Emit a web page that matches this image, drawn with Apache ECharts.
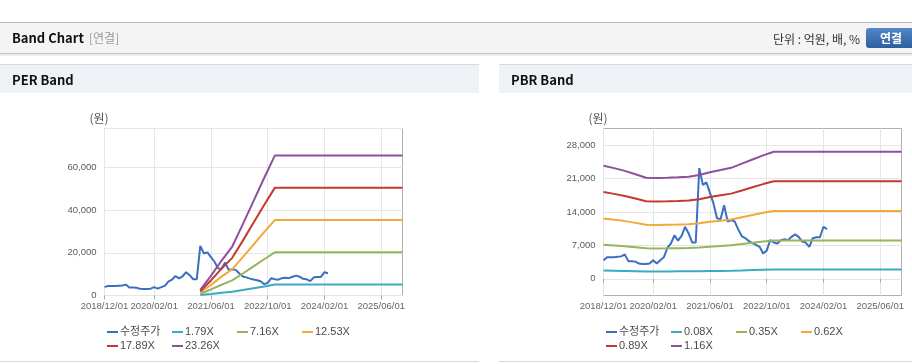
<!DOCTYPE html>
<html><head><meta charset="utf-8">
<script src="https://cdn.jsdelivr.net/npm/echarts@6/dist/echarts.min.js"></script>
<style>html,body{margin:0;padding:0;background:#fff}#c{width:912px;height:364px}</style>
</head><body><div id="c"></div><script>
// ---- data ----
const categories = [
'2018/12/01',
'2019/01/01','2019/02/01','2019/03/01','2019/04/01','2019/05/01','2019/06/01','2019/07/01','2019/08/01','2019/09/01','2019/10/01','2019/11/01','2019/12/01',
'2020/01/01','2020/02/01','2020/03/01','2020/04/01','2020/05/01','2020/06/01','2020/07/01','2020/08/01','2020/09/01','2020/10/01','2020/11/01','2020/12/01',
'2021/01/01','2021/02/01','2021/03/01','2021/04/01','2021/05/01','2021/06/01','2021/07/01','2021/08/01','2021/09/01','2021/10/01','2021/11/01','2021/12/01',
'2022/01/01','2022/02/01','2022/03/01','2022/04/01','2022/05/01','2022/06/01','2022/07/01','2022/08/01','2022/09/01','2022/10/01','2022/11/01','2022/12/01',
'2023/01/01','2023/02/01','2023/03/01','2023/04/01','2023/05/01','2023/06/01','2023/07/01','2023/08/01','2023/09/01','2023/10/01','2023/11/01','2023/12/01',
'2024/01/01','2024/02/01','2024/03/01','2024/04/01','2024/05/01','2024/06/01','2024/07/01','2024/08/01','2024/09/01','2024/10/01','2024/11/01','2024/12/01',
'2025/01/01','2025/02/01','2025/03/01','2025/04/01','2025/05/01','2025/06/01','2025/07/01','2025/08/01','2025/09/01','2025/10/01','2025/11/01','2025/12/01'
];
const xTickLabels = ['2018/12/01','2020/02/01','2021/06/01','2022/10/01','2024/02/01','2025/06/01'];

// 수정주가 (monthly, from 2018/12)
const price = [3900,4500,4500,4500,4600,4700,5100,3700,3700,3600,3200,3100,3100,3200,3900,3200,3900,4500,6500,7400,9100,8000,9000,10900,9500,7600,7600,
23200,19700,20200,18000,15800,12700,12500,15400,12000,12300,12000,10300,8900,8500,7900,7500,7100,6700,5300,5900,8100,7600,7400,8100,8300,8100,8800,9300,8800,7800,7600,6700,8500,8700,8700,10900,10400];

// PER band
const perNames = ['1.79X','7.16X','12.53X','17.89X','23.26X'];
const perKeyDates = ['2021/03/01','2021/06/01','2021/09/01','2021/12/01','2022/03/01','2022/06/01','2022/09/01','2022/12/01','2025/12/01'];
const per179  = [200, 710, 1260, 1770, 2580, 3410, 4240, 5200, 5200];
const per716  = [810, 2830, 5050, 7070, 10300, 13640, 16970, 20200, 20200];
const per1253 = [1410, 4940, 8830, 12360, 18000, 23830, 29650, 35300, 35300];
const per1789 = [2020, 7060, 12600, 17640, 25700, 34020, 42340, 50400, 50400];
const per2326 = [2620, 9170, 16380, 22930, 33410, 44210, 55020, 65500, 65500];
const perYTicks = [0, 20000, 40000, 60000];

// PBR band
const pbrNames = ['0.08X','0.35X','0.62X','0.89X','1.16X'];
const pbrKeyDates = ['2018/12/01','2019/03/01','2019/06/01','2019/09/01','2019/12/01','2020/03/01','2020/06/01','2020/09/01','2020/12/01','2021/03/01','2021/06/01','2021/09/01','2021/12/01','2022/03/01','2022/06/01','2022/09/01','2022/12/01','2025/12/01'];
const pbr008 = [1720,1690,1650,1600,1550,1550,1550,1560,1560,1590,1630,1660,1700,1760,1830,1890,1940,1940];
const pbr035 = [7150,7000,6830,6620,6390,6370,6390,6420,6450,6560,6740,6880,7020,7280,7540,7810,8030,8030];
const pbr062 = [12660,12400,12090,11720,11320,11280,11320,11360,11430,11630,11940,12180,12430,12900,13360,13830,14230,14230];
const pbr089 = [18170,17800,17360,16820,16240,16200,16240,16310,16400,16690,17130,17490,17850,18510,19180,19850,20430,20430];
const pbr116 = [23690,23200,22620,21920,21170,21110,21170,21260,21380,21750,22330,22790,23260,24130,25000,25870,26620,26620];
const pbrYTicks = [0, 7000, 14000, 21000, 28000];

const colors = ['#3b6fc1','#3aabc1','#96b55a','#f3a83b','#c2392f','#8c519b'];

// ---- chart ----
const chart = echarts.init(document.getElementById('c'), null, {renderer:'canvas'});
const FONT = '"Liberation Sans", "Noto Sans CJK KR", sans-serif';
const KFONT = '"Noto Sans CJK KR", "Liberation Sans", sans-serif';
const showTick = (i, v) => xTickLabels.indexOf(categories[i]) >= 0;
const pairs = (dates, vals) => dates.map((d, i) => [d, vals[i]]);

function xAxis(gi) {
  return {
    type:'category', gridIndex: gi, data: categories, boundaryGap:false,
    axisLine:{show:false},
    axisTick:{show:true, interval: showTick, length:4, lineStyle:{color:'#aaa'}},
    axisLabel:{interval: showTick, color:'#666', fontSize:9.5, margin:6, fontFamily: FONT},
    splitLine:{show:true, interval: showTick, lineStyle:{color:'#e6e6e6'}}
  };
}
function line(name, data, color, gi) {
  return {type:'line', name, data, xAxisIndex:gi, yAxisIndex:gi, showSymbol:false, symbol:'none',
    lineStyle:{width:2, color}, itemStyle:{color}, emphasis:{disabled:true}};
}
function legend(names, left) {
  return {data: names, left, top: 325, width: 262, orient:'horizontal', itemGap:0, padding:0,
    icon:'rect', itemWidth:11, itemHeight:2,
    textStyle:{fontSize:11, color:'#4a4a4a', width:52, lineHeight:14, padding:[0,0,0,-3], fontFamily: FONT}};
}

const series = [
  line('수정주가', price, colors[0], 0),
  line(perNames[0], pairs(perKeyDates, per179), colors[1], 0),
  line(perNames[1], pairs(perKeyDates, per716), colors[2], 0),
  line(perNames[2], pairs(perKeyDates, per1253), colors[3], 0),
  line(perNames[3], pairs(perKeyDates, per1789), colors[4], 0),
  line(perNames[4], pairs(perKeyDates, per2326), colors[5], 0),
  line('수정주가', price, colors[0], 1),
  line(pbrNames[0], pairs(pbrKeyDates, pbr008), colors[1], 1),
  line(pbrNames[1], pairs(pbrKeyDates, pbr035), colors[2], 1),
  line(pbrNames[2], pairs(pbrKeyDates, pbr062), colors[3], 1),
  line(pbrNames[3], pairs(pbrKeyDates, pbr089), colors[4], 1),
  line(pbrNames[4], pairs(pbrKeyDates, pbr116), colors[5], 1)
];

const graphic = [
  {type:'rect', shape:{x:0,y:22,width:912,height:1}, style:{fill:'#b4b4b4'}, silent:true},
  {type:'rect', shape:{x:0,y:23,width:912,height:30}, style:{fill:'#f4f4f4'}, silent:true},
  {type:'rect', shape:{x:0,y:53,width:912,height:1}, style:{fill:'#c2c2c2'}, silent:true},
  {type:'rect', shape:{x:0,y:54,width:912,height:2}, style:{fill:'#ececec'}, silent:true},
  {type:'text', x:12, y:38, style:{text:'Band Chart', font:'bold 13px '+KFONT, fill:'#111', verticalAlign:'middle'}},
  {type:'text', x:89, y:38, style:{text:'[연결]', font:'12px '+KFONT, fill:'#999', verticalAlign:'middle'}},
  {type:'text', x:860, y:39, style:{text:'단위 : 억원, 배, %', font:'12px '+KFONT, fill:'#333', align:'right', verticalAlign:'middle'}},
  {type:'rect', shape:{x:866,y:28,width:52,height:20,r:3}, style:{fill:new echarts.graphic.LinearGradient(0,0,0,1,[{offset:0,color:'#5287c8'},{offset:1,color:'#2f5e9e'}])}, silent:true},
  {type:'text', x:891, y:38, style:{text:'연결', font:'bold 12px '+KFONT, fill:'#fff', align:'center', verticalAlign:'middle'}},
  // panels
  {type:'rect', shape:{x:0,y:64,width:479,height:1}, style:{fill:'#d9d9d9'}, silent:true},
  {type:'rect', shape:{x:0,y:65,width:479,height:28}, style:{fill:'#eef1f6'}, silent:true},
  {type:'text', x:12, y:80, style:{text:'PER Band', font:'bold 13px '+KFONT, fill:'#111', verticalAlign:'middle'}},
  {type:'rect', shape:{x:499,y:64,width:413,height:1}, style:{fill:'#d9d9d9'}, silent:true},
  {type:'rect', shape:{x:499,y:65,width:413,height:28}, style:{fill:'#eef1f6'}, silent:true},
  {type:'text', x:511, y:80, style:{text:'PBR Band', font:'bold 13px '+KFONT, fill:'#111', verticalAlign:'middle'}},
  {type:'rect', shape:{x:0,y:361,width:479,height:1}, style:{fill:'#d9d9d9'}, silent:true},
  {type:'rect', shape:{x:499,y:361,width:413,height:1}, style:{fill:'#d9d9d9'}, silent:true},
  {type:'text', x:99, y:118, style:{text:'(원)', font:'12px '+KFONT, fill:'#555', align:'center', verticalAlign:'middle'}},
  {type:'text', x:598, y:118, style:{text:'(원)', font:'12px '+KFONT, fill:'#555', align:'center', verticalAlign:'middle'}}
];

chart.setOption({
  animation:false,
  backgroundColor:'#fff',
  color: colors,
  graphic,
  legend:[legend(['수정주가'].concat(perNames), 107), legend(['수정주가'].concat(pbrNames), 606)],
  grid:[
    {left:104.5, top:128.5, width:298, height:167, show:true, borderColor:'#b0b0b0', borderWidth:1, backgroundColor:'#fff'},
    {left:603.5, top:128.5, width:298, height:167, show:true, borderColor:'#b0b0b0', borderWidth:1, backgroundColor:'#fff'}
  ],
  xAxis:[xAxis(0), xAxis(1)],
  yAxis:[
    {type:'value', gridIndex:0, min:0, max:78200, interval:20000,
     axisLine:{show:false}, axisTick:{show:false},
     axisLabel:{color:'#5a5a5a', fontSize:9.5, margin:8, fontFamily:FONT,
       formatter: v => perYTicks.indexOf(v) >= 0 ? v.toLocaleString('en-US') : ''},
     splitLine:{lineStyle:{color:'#e6e6e6'}}},
    {type:'value', gridIndex:1, min:-3500, max:31500, interval:3500,
     axisLine:{show:false}, axisTick:{show:false},
     axisLabel:{color:'#5a5a5a', fontSize:9.5, margin:8, fontFamily:FONT,
       formatter: v => pbrYTicks.indexOf(v) >= 0 ? v.toLocaleString('en-US') : ''},
     splitLine:{lineStyle:{color:['rgba(0,0,0,0)','#e6e6e6']}}}
  ],
  series
});
</script></body></html>
